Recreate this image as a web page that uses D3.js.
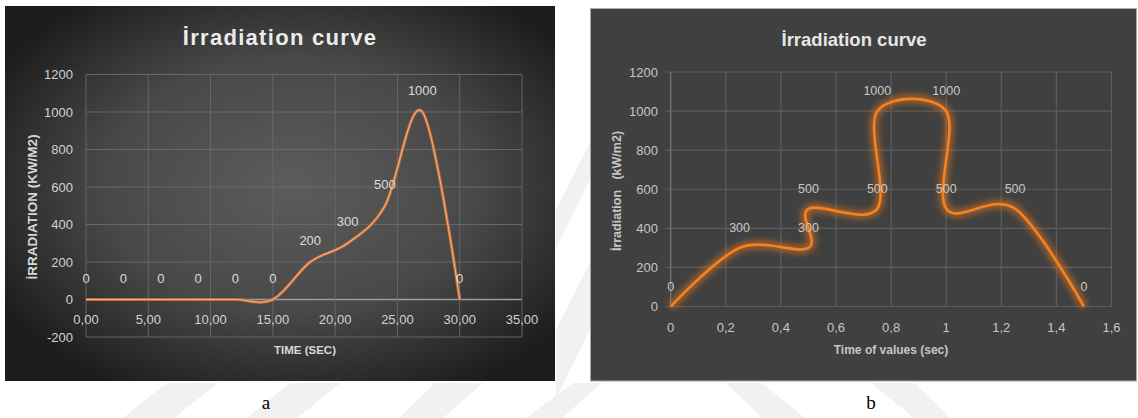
<!DOCTYPE html>
<html>
<head>
<meta charset="utf-8">
<script src="https://cdn.jsdelivr.net/npm/d3@7"></script>
<style>
  body { margin: 0; background: #ffffff; }
  svg { display: block; }
</style>
</head>
<body>
<svg id="chart" width="1138" height="418"></svg>
<script>
// ---- Chart a: irradiation over time (sec)
const timeA  = [0, 3, 6, 9, 12, 15, 18, 21, 24, 27, 30];
const irrA   = [0, 0, 0, 0, 0, 0, 200, 300, 500, 1000, 0];
const xTicksA = [0, 5, 10, 15, 20, 25, 30, 35];
const yTicksA = [-200, 0, 200, 400, 600, 800, 1000, 1200];

// ---- Chart b: irradiation over time of values (sec)
const timeB  = [0, 0.25, 0.5, 0.5, 0.75, 0.75, 1, 1, 1.25, 1.5];
const irrB   = [0, 300, 300, 500, 500, 1000, 1000, 500, 500, 0];
const xTicksB = [0, 0.2, 0.4, 0.6, 0.8, 1, 1.2, 1.4, 1.6];
const yTicksB = [0, 200, 400, 600, 800, 1000, 1200];

const titleText = "İrradiation curve";

const svg = d3.select("#chart");
const defs = svg.append("defs");

// comma as decimal separator
const loc = d3.formatLocale({decimal: ",", thousands: "", grouping: [3], currency: ["", ""]});
const fmtA = loc.format(".2f");
const fmtB = loc.format(".1~f");

const SANS = "'Liberation Sans', Arial, sans-serif";

// faint background stripes on the page
const stripes = [
  [[167,383],[218,383],[174,418],[123,418]],
  [[290,383],[341,383],[297,418],[247,418]],
  [[435,383],[483,383],[443,418],[399,418]],
  [[573,383],[602,383],[562,418],[526,418]],
  [[726,383],[762,383],[805,418],[762,418]],
  [[871,383],[914,383],[951,418],[914,418]],
  [[556,330],[590,262],[590,330],[556,398]],
  [[556,210],[590,142],[590,180],[556,248]]
];
svg.append("g").selectAll("path").data(stripes).join("path")
  .attr("d", d => "M" + d.map(p => p.join(",")).join("L") + "Z")
  .attr("fill", "#f1f1f1");

// ================= Chart a =================
const grad = defs.append("radialGradient").attr("id", "bgA")
  .attr("cx", "52%").attr("cy", "48%").attr("r", "62%");
grad.append("stop").attr("offset", "0%").attr("stop-color", "#5c5c5c");
grad.append("stop").attr("offset", "55%").attr("stop-color", "#484848");
grad.append("stop").attr("offset", "100%").attr("stop-color", "#1c1c1c");

const gA = svg.append("g");
gA.append("rect").attr("x", 5).attr("y", 6).attr("width", 550).attr("height", 375)
  .attr("fill", "url(#bgA)");

const xA = d3.scaleLinear().domain([0, 35]).range([86, 522]);
const yA = d3.scaleLinear().domain([-200, 1200]).range([337, 74.5]);

// gridlines
gA.append("g").selectAll("line").data(yTicksA).join("line")
  .attr("x1", xA(0)).attr("x2", xA(35))
  .attr("y1", d => yA(d)).attr("y2", d => yA(d))
  .attr("stroke", d => d === 0 ? "#9c9c9c" : "#6c6c6c")
  .attr("stroke-width", d => d === 0 ? 1.3 : 0.9);
gA.append("g").selectAll("line").data(xTicksA).join("line")
  .attr("x1", d => xA(d)).attr("x2", d => xA(d))
  .attr("y1", yA(1200)).attr("y2", yA(-200))
  .attr("stroke", "#6a6a6a").attr("stroke-width", 0.9);

// y tick labels
gA.append("g").selectAll("text").data(yTicksA).join("text")
  .attr("x", 73).attr("y", d => yA(d)).attr("dy", "0.35em")
  .attr("text-anchor", "end")
  .attr("font-family", SANS).attr("font-size", 13).attr("fill", "#d2d2d2")
  .text(d => d);

// x tick labels, just under the zero line
gA.append("g").selectAll("text").data(xTicksA).join("text")
  .attr("x", d => xA(d)).attr("y", 319).attr("dy", "0.35em")
  .attr("text-anchor", "middle")
  .attr("font-family", SANS).attr("font-size", 13).attr("fill", "#d2d2d2")
  .text(d => fmtA(d));

// title
gA.append("text").attr("x", 280).attr("y", 45)
  .attr("text-anchor", "middle")
  .attr("font-family", SANS).attr("font-weight", "bold").attr("font-size", 22)
  .attr("letter-spacing", 1.3).attr("fill", "#ececec")
  .text(titleText);

// axis titles
gA.append("text").attr("x", 305).attr("y", 350).attr("dy", "0.35em")
  .attr("text-anchor", "middle")
  .attr("font-family", SANS).attr("font-weight", "bold").attr("font-size", 11.5)
  .attr("fill", "#d8d8d8").text("TIME (SEC)");
gA.append("text")
  .attr("transform", "translate(32,207) rotate(-90)").attr("dy", "0.35em")
  .attr("text-anchor", "middle")
  .attr("font-family", SANS).attr("font-weight", "bold").attr("font-size", 13.5)
  .attr("fill", "#d8d8d8").text("İRRADIATION (KW/M2)");

// smoothed line
const ptsA = timeA.map((t, i) => [t, irrA[i]]);
const lineA = d3.line().x(d => xA(d[0])).y(d => yA(d[1])).curve(d3.curveCardinal.tension(0));
gA.append("path").attr("d", lineA(ptsA))
  .attr("fill", "none").attr("stroke", "#c46a33").attr("stroke-width", 3.2);
gA.append("path").attr("d", lineA(ptsA))
  .attr("fill", "none").attr("stroke", "#ecb48a").attr("stroke-width", 1.1);

// value labels
gA.append("g").selectAll("text").data(ptsA).join("text")
  .attr("x", d => xA(d[0])).attr("y", d => yA(d[1]) - 17)
  .attr("text-anchor", "middle")
  .attr("font-family", SANS).attr("font-size", 13).attr("fill", "#dcdcdc")
  .text(d => d[1]);

// ================= Chart b =================
const gB = svg.append("g");
gB.append("rect").attr("x", 590.5).attr("y", 8.5).attr("width", 546).attr("height", 372.5)
  .attr("fill", "#404040").attr("stroke", "#a8a8a8").attr("stroke-width", 1);

const xB = d3.scaleLinear().domain([0, 1.6]).range([670.7, 1111.5]);
const yB = d3.scaleLinear().domain([0, 1200]).range([306.5, 72]);

gB.append("g").selectAll("line").data(yTicksB).join("line")
  .attr("x1", xB(0) - 5).attr("x2", xB(1.6))
  .attr("y1", d => yB(d)).attr("y2", d => yB(d))
  .attr("stroke", "#5d5d5d").attr("stroke-width", 1.2);
gB.append("g").selectAll("line").data(xTicksB).join("line")
  .attr("x1", d => xB(d)).attr("x2", d => xB(d))
  .attr("y1", yB(1200)).attr("y2", yB(0))
  .attr("stroke", d => d === 0 ? "#777777" : "#5d5d5d").attr("stroke-width", 1.2);

gB.append("g").selectAll("text").data(yTicksB).join("text")
  .attr("x", 658).attr("y", d => yB(d)).attr("dy", "0.35em")
  .attr("text-anchor", "end")
  .attr("font-family", SANS).attr("font-size", 13).attr("fill", "#c6c6c6")
  .text(d => d);

gB.append("g").selectAll("text").data(xTicksB).join("text")
  .attr("x", d => xB(d)).attr("y", 327).attr("dy", "0.35em")
  .attr("text-anchor", "middle")
  .attr("font-family", SANS).attr("font-size", 13).attr("fill", "#c6c6c6")
  .text(d => fmtB(d));

gB.append("text").attr("x", 854).attr("y", 46)
  .attr("text-anchor", "middle")
  .attr("font-family", SANS).attr("font-weight", "bold").attr("font-size", 18.5)
  .attr("fill", "#e6e6e6").text(titleText);

gB.append("text").attr("x", 891).attr("y", 350).attr("dy", "0.35em")
  .attr("text-anchor", "middle")
  .attr("font-family", SANS).attr("font-weight", "bold").attr("font-size", 12)
  .attr("fill", "#c6c6c6").text("Time of values (sec)");
gB.append("text")
  .attr("transform", "translate(617,191) rotate(-90)").attr("dy", "0.35em")
  .attr("text-anchor", "middle").attr("xml:space", "preserve")
  .attr("font-family", SANS).attr("font-weight", "bold").attr("font-size", 12.5)
  .attr("fill", "#c6c6c6").text("İrradiation   (kW/m2)");

// glowing smoothed line
const glow = defs.append("filter").attr("id", "glow")
  .attr("x", "-10%").attr("y", "-10%").attr("width", "120%").attr("height", "120%");
glow.append("feGaussianBlur").attr("stdDeviation", 3.2);

const ptsB = timeB.map((t, i) => [t, irrB[i]]);
const lineB = d3.line().x(d => xB(d[0])).y(d => yB(d[1])).curve(d3.curveCardinal.tension(0));
gB.append("path").attr("d", lineB(ptsB))
  .attr("fill", "none").attr("stroke", "#e8761c").attr("stroke-width", 8)
  .attr("stroke-opacity", 0.6).attr("filter", "url(#glow)");
gB.append("path").attr("d", lineB(ptsB))
  .attr("fill", "none").attr("stroke", "#f5821f").attr("stroke-width", 2.6);

gB.append("g").selectAll("text").data(ptsB).join("text")
  .attr("x", d => xB(d[0])).attr("y", d => yB(d[1]) - 16)
  .attr("text-anchor", "middle")
  .attr("font-family", SANS).attr("font-size", 12.5).attr("fill", "#c8c8c8")
  .text(d => d[1]);

// ---- captions
svg.append("text").attr("x", 266).attr("y", 409).attr("text-anchor", "middle")
  .attr("font-family", "'Liberation Serif', 'Times New Roman', serif").attr("font-size", 19)
  .attr("fill", "#000").text("a");
svg.append("text").attr("x", 871).attr("y", 409).attr("text-anchor", "middle")
  .attr("font-family", "'Liberation Serif', 'Times New Roman', serif").attr("font-size", 19)
  .attr("fill", "#000").text("b");
</script>
</body>
</html>
